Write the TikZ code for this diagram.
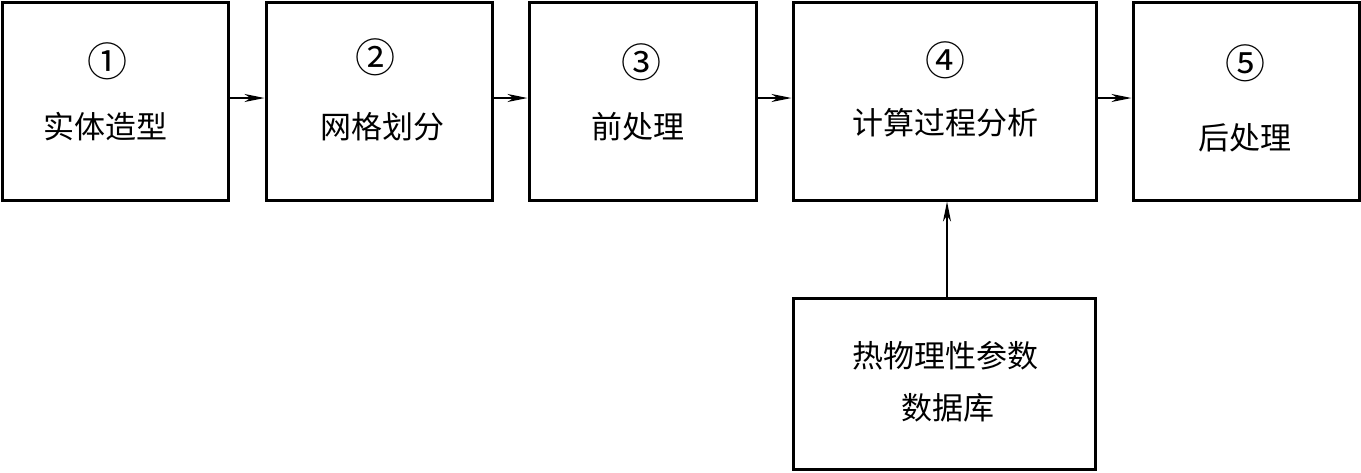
\documentclass[tikz,border=0pt]{standalone}
\usepackage{fontspec}
\setmainfont{Noto Sans CJK SC}
\usetikzlibrary{arrows.meta}
\begin{document}
\begin{tikzpicture}[x=1pt,y=-1pt,
  box/.style={draw,line width=3pt,minimum width=#1,inner sep=0pt},
  txt/.style={font=\fontsize{31pt}{36pt}\selectfont,inner sep=0pt,anchor=center},
  num/.style={font=\fontsize{40pt}{44pt}\selectfont,inner sep=0pt,anchor=center},
  conn/.style={line width=1.4pt,-{Stealth[length=20pt,width=8pt,inset=6pt]}}]
\useasboundingbox (0,0) rectangle (1361,472);
\node[box=226pt,minimum height=198pt] (b1) at (115,101) {};
\node[box=226pt,minimum height=198pt] (b2) at (379,101) {};
\node[box=227pt,minimum height=198pt] (b3) at (642.5,101) {};
\node[box=303pt,minimum height=198pt] (b4) at (944.5,101) {};
\node[box=226pt,minimum height=198pt] (b5) at (1246,101) {};
\node[box=302pt,minimum height=171pt] (b6) at (944.5,383.5) {};
\node[num] (n1) at (107,61) {①};
\node[txt] (t1) at (105,127) {实体造型};
\node[num] (n2) at (375,57) {②};
\node[txt] (t2) at (382,127) {网格划分};
\node[num] (n3) at (641,62) {③};
\node[txt] (t3) at (638,127) {前处理};
\node[num] (n4) at (945,60) {④};
\node[txt] (t4) at (945,123) {计算过程分析};
\node[num] (n5) at (1245,63) {⑤};
\node[txt] (t5) at (1245,138) {后处理};
\node[txt] (t6) at (945,356) {热物理性参数};
\node[txt] (t7) at (948,408) {数据库};
\coordinate (a1) at (b1.east |- 0,98);
\coordinate (a2) at (b2.west |- 0,98);
\coordinate (a3) at (b2.east |- 0,98);
\coordinate (a4) at (b3.west |- 0,98);
\coordinate (a5) at (b3.east |- 0,98);
\coordinate (a6) at (b4.west |- 0,98);
\coordinate (a7) at (b4.east |- 0,98);
\coordinate (a8) at (b5.west |- 0,98);
\draw[conn] (a1) -- (a2);
\draw[conn] (a3) -- (a4);
\draw[conn] (a5) -- (a6);
\draw[conn] (a7) -- (a8);
\draw[conn] (b6.north -| 947,0) -- (b4.south -| 947,0);
\end{tikzpicture}
\end{document}
